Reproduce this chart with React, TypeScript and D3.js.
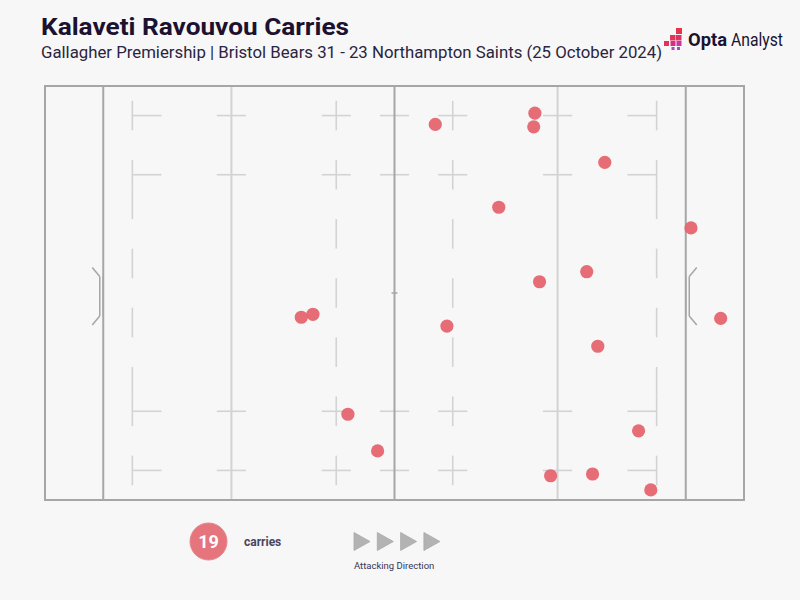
import React from "react";
import * as d3 from "d3";

const W = 800;
const H = 600;

const title = "Kalaveti Ravouvou Carries";
const subtitle = "Gallagher Premiership | Bristol Bears 31 - 23 Northampton Saints (25 October 2024)";

// carry locations: metres from left try line (x), metres from top touchline (y)
const carryX = [57.0, 74.1, 73.9, 86.1, 67.9, 100.9, 83.0, 74.9, 34.0, 36.0, 59.0, 106.0, 84.9, 42.0, 91.9, 47.1, 76.8, 84.0, 94.0];
const carryY = [6.5, 4.6, 6.9, 12.9, 20.5, 24.0, 31.4, 33.1, 39.1, 38.6, 40.6, 39.3, 44.0, 55.5, 58.3, 61.7, 65.9, 65.6, 68.3];

const markRows = [5, 15, 55, 65];
const tenDashRows = [25, 35, 45];
const fiveDashRows = [20, 30, 40, 50];
const arrows = [0, 1, 2, 3];

export default function App() {
  const x = d3.scaleLinear().domain([-10, 110]).range([45, 744]);
  const y = d3.scaleLinear().domain([0, 70]).range([86, 500]);
  const dark = "#a6a6a6";
  const light = "#d3d3d3";
  const ff = "Roboto, 'Noto Sans', sans-serif";

  const vSeg = (mx: number, cy: number, key: string, half = 2.5) => (
    <line key={key} x1={x(mx)} x2={x(mx)} y1={y(cy - half)} y2={y(cy + half)} stroke={light} strokeWidth={1.6} />
  );
  const hSeg = (x0: number, x1: number, cy: number, key: string) => (
    <line key={key} x1={x(x0)} x2={x(x1)} y1={y(cy)} y2={y(cy)} stroke={light} strokeWidth={1.6} />
  );

  const marks: React.ReactNode[] = [];
  markRows.forEach((r) => {
    marks.push(vSeg(5, r, `t5l${r}`));
    marks.push(hSeg(5, 10, r, `t5lh${r}`));
    marks.push(vSeg(95, r, `t5r${r}`));
    marks.push(hSeg(90, 95, r, `t5rh${r}`));
    marks.push(hSeg(19.5, 24.5, r, `c22l${r}`));
    marks.push(hSeg(75.5, 80.5, r, `c22r${r}`));
    marks.push(vSeg(40, r, `c10l${r}`));
    marks.push(hSeg(37.5, 42.5, r, `c10lh${r}`));
    marks.push(vSeg(60, r, `c10r${r}`));
    marks.push(hSeg(57.5, 62.5, r, `c10rh${r}`));
    marks.push(hSeg(47.5, 52.5, r, `hw${r}`));
  });
  tenDashRows.forEach((r) => {
    marks.push(vSeg(40, r, `d10l${r}`));
    marks.push(vSeg(60, r, `d10r${r}`));
  });
  fiveDashRows.forEach((r) => {
    marks.push(vSeg(5, r, `d5l${r}`));
    marks.push(vSeg(95, r, `d5r${r}`));
  });

  const goal = (side: number) => {
    const lineX = side < 0 ? x(0) : x(100);
    const postX = side < 0 ? lineX - 3.5 : lineX + 3.5;
    const outX = side < 0 ? lineX - 11 : lineX + 11;
    const yt = y(32.2);
    const yb = y(38.9);
    return (
      <g key={`goal${side}`} stroke={dark} strokeWidth={1.5} fill="none">
        <line x1={lineX} x2={lineX} y1={yt} y2={yb} />
        <line x1={postX} x2={postX} y1={yt} y2={yb} />
        <line x1={postX} x2={outX} y1={yt} y2={yt - 9} />
        <line x1={postX} x2={outX} y1={yb} y2={yb + 9} />
      </g>
    );
  };

  const logoSquares = [
    { x: 676, y: 28, s: 6, c: "#e8344a" },
    { x: 670, y: 35, s: 5.5, c: "#e43454" },
    { x: 676, y: 35, s: 5.5, c: "#e0306a" },
    { x: 664, y: 41, s: 5, c: "#e0345a" },
    { x: 670.5, y: 41, s: 5, c: "#d42e86" },
    { x: 676.5, y: 41, s: 5, c: "#c836a6" },
    { x: 671.5, y: 47, s: 3, c: "#b640c8" },
    { x: 677, y: 47, s: 3, c: "#a648d6" },
  ];

  return (
    <svg width={W} height={H} style={{ position: "absolute", left: 0, top: 0, display: "block" }}>
      <rect x={0} y={0} width={W} height={H} fill="#f7f7f7" />
      <text x={41} y={35} fontFamily={ff} fontWeight={700} fontSize={23} fill="#1c1230" textLength={308} lengthAdjust="spacingAndGlyphs">
        {title}
      </text>
      <text x={41} y={58} fontFamily={ff} fontSize={16} fill="#2a2440" textLength={621} lengthAdjust="spacingAndGlyphs">
        {subtitle}
      </text>
      {logoSquares.map((s, i) => (
        <rect key={i} x={s.x} y={s.y} width={s.s} height={s.s} fill={s.c} />
      ))}
      <text x={688} y={46} fontFamily={ff} fontSize={18} fill="#1c1230" fontWeight={700} textLength={39} lengthAdjust="spacingAndGlyphs">
        Opta
      </text>
      <text x={731} y={46} fontFamily={ff} fontSize={18} fill="#1c1230" fontWeight={400} textLength={52} lengthAdjust="spacingAndGlyphs">
        Analyst
      </text>

      {/* pitch */}
      <g>
        {marks}
        <line x1={x(22)} x2={x(22)} y1={y(0)} y2={y(70)} stroke={light} strokeWidth={2} />
        <line x1={x(78)} x2={x(78)} y1={y(0)} y2={y(70)} stroke={light} strokeWidth={2} />
        <line x1={x(0)} x2={x(0)} y1={y(0)} y2={y(70)} stroke={dark} strokeWidth={2} />
        <line x1={x(100)} x2={x(100)} y1={y(0)} y2={y(70)} stroke={dark} strokeWidth={2} />
        <line x1={x(50)} x2={x(50)} y1={y(0)} y2={y(70)} stroke={dark} strokeWidth={2} />
        <line x1={x(50) - 3} x2={x(50) + 3} y1={y(35)} y2={y(35)} stroke={dark} strokeWidth={1.5} />
        <rect x={x(-10)} y={y(0)} width={x(110) - x(-10)} height={y(70) - y(0)} fill="none" stroke={dark} strokeWidth={2} />
        {goal(-1)}
        {goal(1)}
      </g>

      {carryX.map((cx, i) => (
        <circle key={i} cx={x(cx)} cy={y(carryY[i])} r={6.6} fill="#e5646e" fillOpacity={0.95} />
      ))}

      {/* legend */}
      <circle cx={208.5} cy={541.5} r={18.5} fill="#e5747c" stroke="#e8868d" strokeWidth={1} />
      <text x={208.5} y={548} textAnchor="middle" fontFamily={ff} fontWeight={700} fontSize={18} fill="#ffffff">
        {carryX.length}
      </text>
      <text x={244} y={546} fontFamily={ff} fontWeight={700} fontSize={12} fill="#4a4560">
        carries
      </text>
      {arrows.map((a) => {
        const ax = 354 + a * 23.3;
        return (
          <path key={a} d={`M${ax},532.5 L${ax + 16},541.5 L${ax},550.5 Z`} fill="#b3b3b3" stroke="#a8a8a8" strokeWidth={0.8} />
        );
      })}
      <text x={354} y={569} fontFamily={ff} fontSize={9.5} fill="#3a3550">
        Attacking Direction
      </text>
    </svg>
  );
}
